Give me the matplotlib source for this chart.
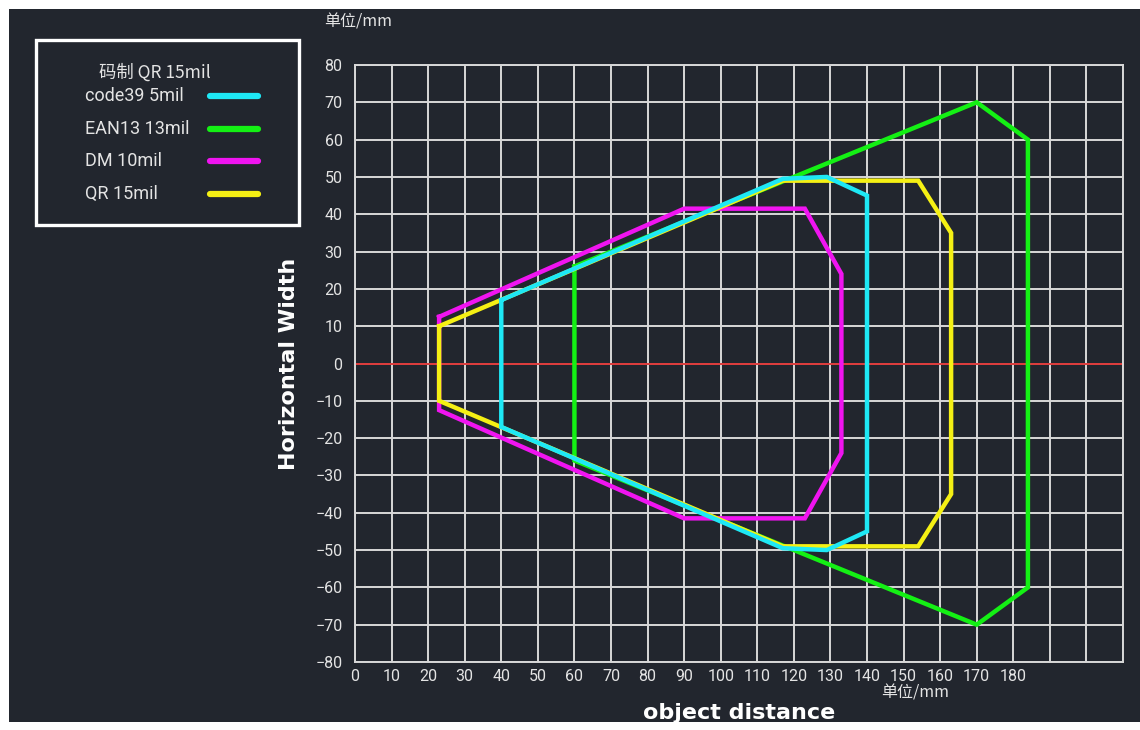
import matplotlib
matplotlib.use("Agg")
import matplotlib.pyplot as plt
from matplotlib.patches import Rectangle

# scan window outlines (distance mm, width mm), one closed polygon per code type
code39_x = [40, 117, 129, 140, 140, 129, 117, 40, 40]
code39_y = [17, 49.5, 50, 45, -45, -50, -49.5, -17, 17]

ean13_x = [60, 170, 184, 184, 170, 60, 60]
ean13_y = [26, 70, 60, -60, -70, -26, 26]

dm_x = [23, 90, 123, 133, 133, 123, 90, 23, 23]
dm_y = [12.5, 41.5, 41.5, 24, -24, -41.5, -41.5, -12.5, 12.5]

qr_x = [23, 117, 154, 163, 163, 154, 117, 23, 23]
qr_y = [10, 49, 49, 35, -35, -49, -49, -10, 10]

series_names = ["code39 5mil", "EAN13 13mil", "DM 10mil", "QR 15mil"]
series_colors = ["#1ee8f5", "#14f014", "#f014f0", "#f5f014"]
legend_title = "码制 QR 15mil"

x_ticks = list(range(0, 211, 10))
x_tick_labels = [str(v) if v <= 180 else "" for v in x_ticks]
y_ticks = list(range(-80, 81, 10))

BG = "#22262e"
GRID = "#d8d8d8"
TXT = "#e4e4e4"
CJK = ["Noto Sans CJK SC", "DejaVu Sans"]
LATIN = ["Roboto", "DejaVu Sans"]

W, H = 1140, 730
fig = plt.figure(figsize=(W / 100, H / 100), dpi=100)
fig.patch.set_facecolor("white")

# full-figure overlay in pixel units for the backdrop, legend and unit notes
bg = fig.add_axes([0, 0, 1, 1], zorder=0)
bg.set_xlim(0, W)
bg.set_ylim(H, 0)
bg.axis("off")
bg.add_patch(Rectangle((9, 9), W - 9, 713, facecolor=BG, edgecolor="none"))

# legend box
bg.add_patch(Rectangle((36, 40), 263, 185, facecolor="none",
                       edgecolor="white", linewidth=2.4))
bg.text(155, 73, legend_title, color=TXT, fontsize=12.5, family=CJK,
        ha="center", va="center")
for i, (name, col) in enumerate(zip(series_names, series_colors)):
    yy = 96 + i * 32.7
    bg.text(85, yy, name, color=TXT, fontsize=13, family=LATIN,
            ha="left", va="center")
    bg.plot([210, 258], [yy, yy], color=col, linewidth=4.5,
            solid_capstyle="round")

bg.text(358, 22, "单位/mm", color=TXT, fontsize=11.5, family=CJK,
        ha="center", va="center")
bg.text(915, 693, "单位/mm", color=TXT, fontsize=11.5, family=CJK,
        ha="center", va="center")

# main chart
ax = fig.add_axes([355 / W, 1 - 662 / H, (1123 - 355) / W, (662 - 65) / H],
                  zorder=1)
ax.set_facecolor(BG)
ax.set_xlim(0, 210)
ax.set_ylim(-80, 80)
ax.set_xticks(x_ticks)
ax.set_xticklabels(x_tick_labels)
ax.set_yticks(y_ticks)
ax.tick_params(length=0, colors=TXT, labelsize=11.5)
ax.tick_params(axis="x", pad=5)
ax.tick_params(axis="y", pad=9)
for lab in ax.get_xticklabels() + ax.get_yticklabels():
    lab.set_family(LATIN)
ax.grid(True, color=GRID, linewidth=1.4)
ax.set_axisbelow(True)
for sp in ax.spines.values():
    sp.set_color(GRID)
    sp.set_linewidth(1.4)

ax.axhline(0, color="#e01010", linewidth=1.1, zorder=2)

outlines = [(code39_x, code39_y), (ean13_x, ean13_y), (dm_x, dm_y), (qr_x, qr_y)]
# draw order: EAN13 underneath, then DM, QR, code39 on top
for idx in [1, 2, 3, 0]:
    xs, ys = outlines[idx]
    ax.plot(xs, ys, color=series_colors[idx], linewidth=3.2,
            solid_joinstyle="miter", zorder=3)

ax.set_xlabel("object distance", color="white", fontsize=16,
              fontweight="bold", labelpad=14)
ax.set_ylabel("Horizontal Width", color="white", fontsize=16,
              fontweight="bold", labelpad=12)

fig.savefig("out.png", dpi=100, facecolor=fig.get_facecolor())
